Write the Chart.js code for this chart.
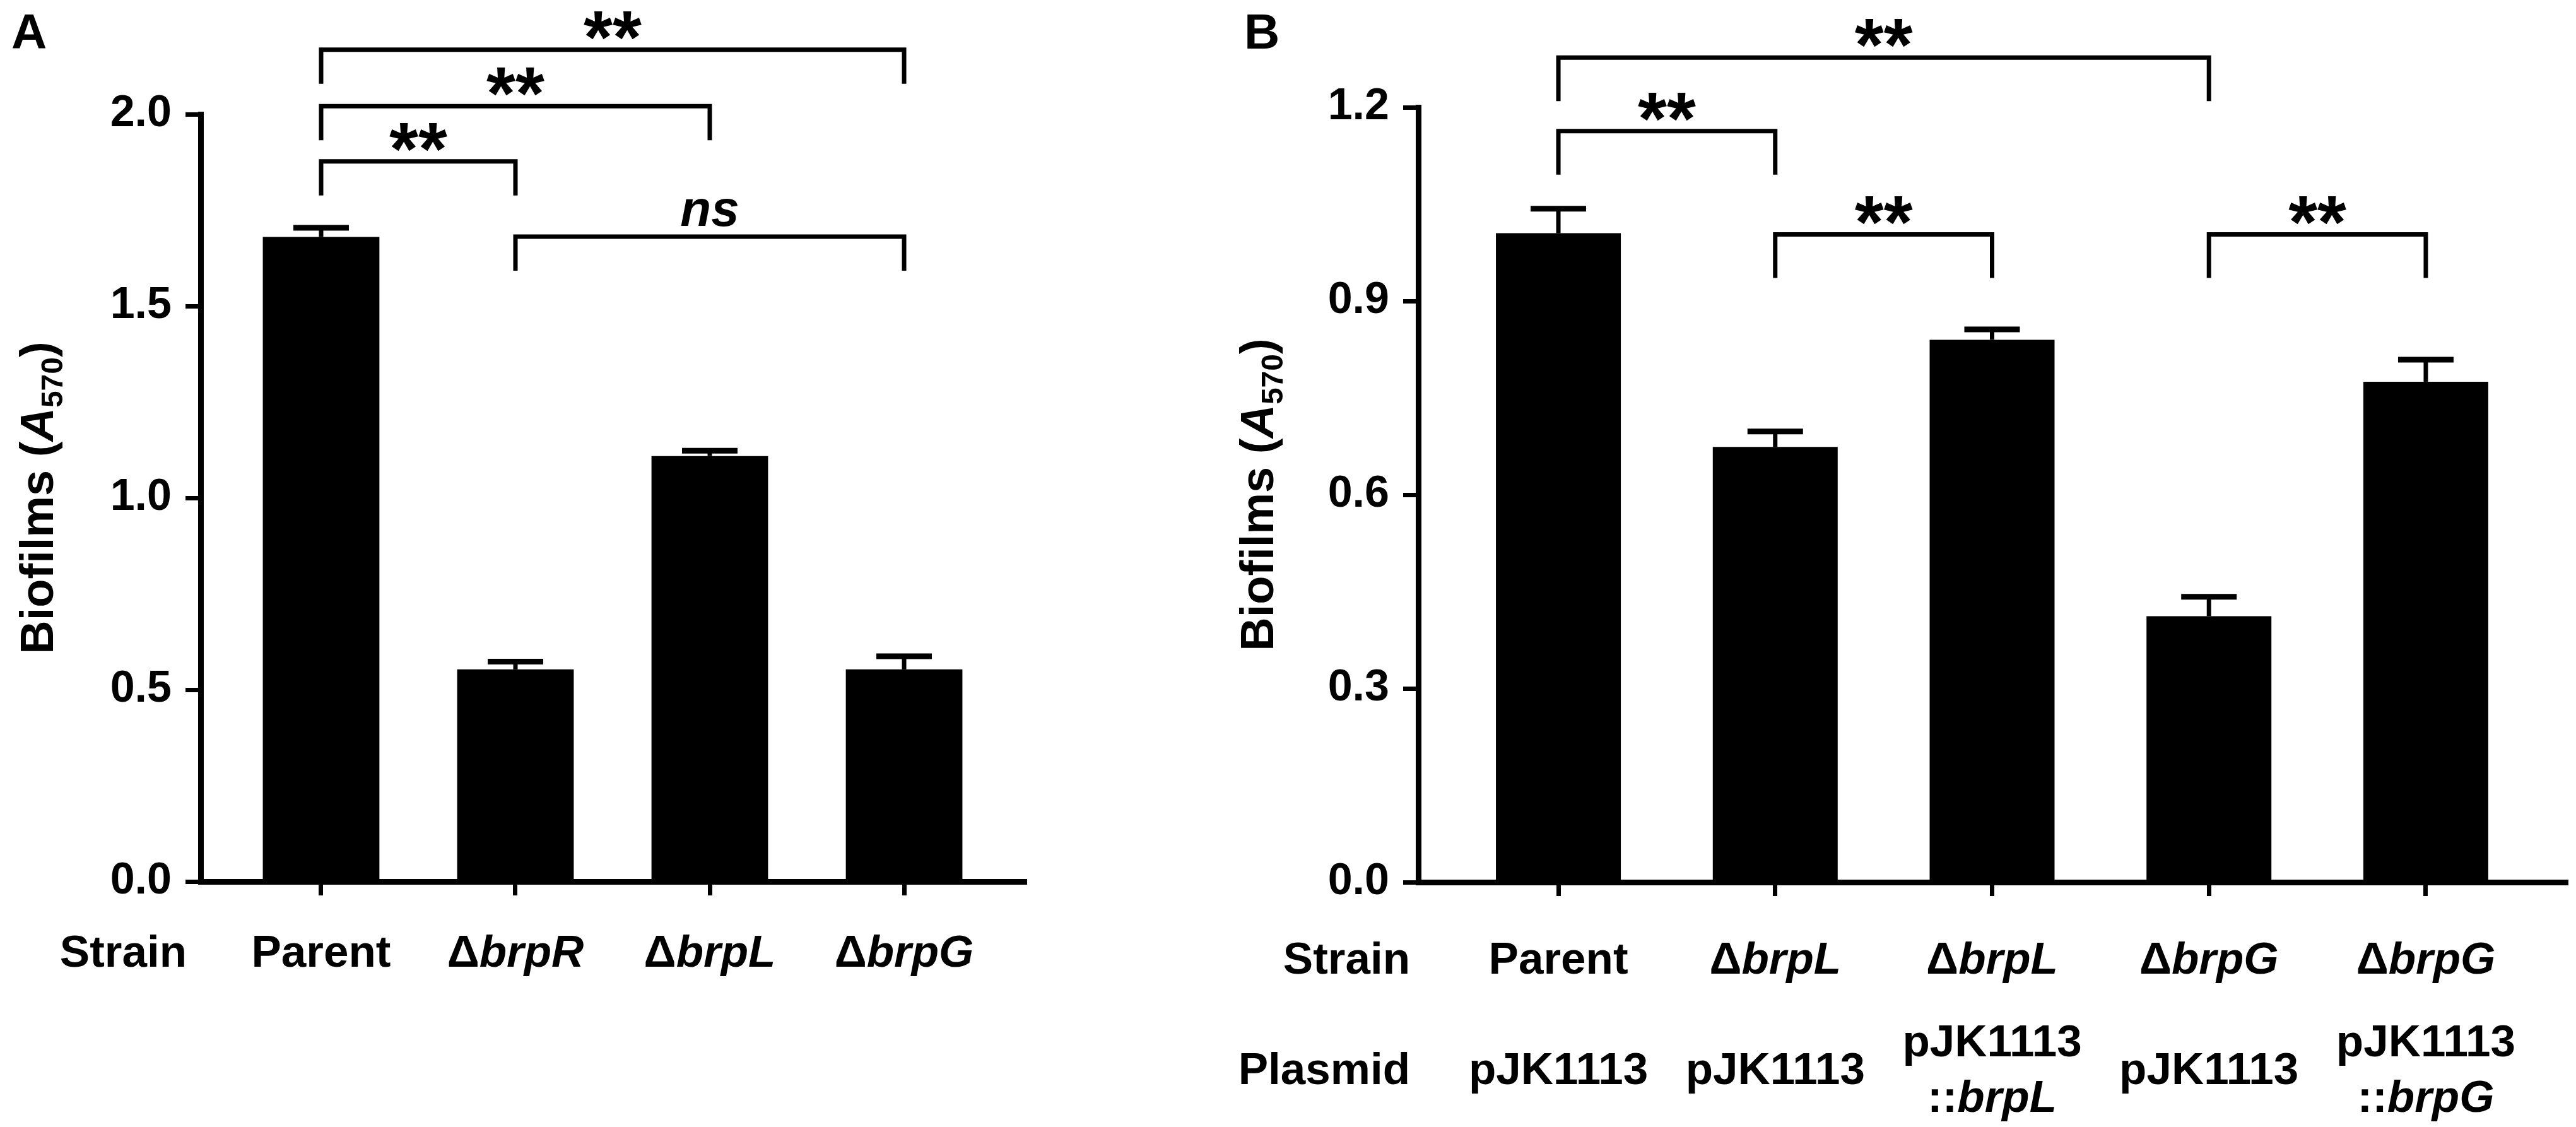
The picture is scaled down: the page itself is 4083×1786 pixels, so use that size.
<!DOCTYPE html>
<html>
<head>
<meta charset="utf-8">
<title>Biofilm formation</title>
<script src="https://cdn.jsdelivr.net/npm/chart.js@4.4.1/dist/chart.umd.min.js"></script>
<style>
	html, body { margin: 0; padding: 0; background: #fff; }
	#wrap { position: relative; width: 4083px; height: 1786px; overflow: hidden; background: #fff; }
	canvas { position: absolute; top: 0; }
	#chartA { left: 0; }
	#chartB { left: 1900px; }
</style>
</head>
<body>
<div id="wrap">
	<canvas id="chartA" width="1900" height="1786"></canvas>
	<canvas id="chartB" width="2183" height="1786"></canvas>
</div>
<script>
// ---- panel A data ----
var strainsA = ["Parent", "Δ<i>brpR</i>", "Δ<i>brpL</i>", "Δ<i>brpG</i>"];
var meanA = [1.68, 0.553, 1.109, 0.553];
var errA = [0.024, 0.02, 0.014, 0.034];
var ticksA = [0, 0.5, 1.0, 1.5, 2.0];
var statsA = [
	{ from: 0, to: 1, level: 1.877, text: "**" },
	{ from: 0, to: 2, level: 2.021, text: "**" },
	{ from: 0, to: 3, level: 2.168, text: "**" },
	{ from: 1, to: 3, level: 1.681, text: "<i>ns</i>" },
];

// ---- panel B data ----
var strainsB = ["Parent", "Δ<i>brpL</i>", "Δ<i>brpL</i>", "Δ<i>brpG</i>", "Δ<i>brpG</i>"];
var plasmidsB = ["pJK1113", "pJK1113", "pJK1113\n::<i>brpL</i>", "pJK1113", "pJK1113\n::<i>brpG</i>"];
var meanB = [1.005, 0.674, 0.84, 0.412, 0.775];
var errB = [0.038, 0.024, 0.016, 0.03, 0.034];
var ticksB = [0, 0.3, 0.6, 0.9, 1.2];
var statsB = [
	{ from: 0, to: 1, level: 1.163, text: "**" },
	{ from: 0, to: 3, level: 1.277, text: "**" },
	{ from: 1, to: 2, level: 1.003, text: "**" },
	{ from: 3, to: 4, level: 1.003, text: "**" },
];

var yTitle = "Biofilms (<i>A</i><sub>570</sub>)";

var FONT = "'Liberation Sans', Arial, Helvetica, sans-serif";
Chart.defaults.font.family = FONT;
Chart.defaults.color = "#000";

// split "text <i>x</i> <sub>y</sub>" into styled pieces
function richParts(markup) {
	var parts = [];
	var re = /<(i|sub)>(.*?)<\/\1>/g;
	var last = 0, m;
	while ((m = re.exec(markup)) !== null) {
		if (m.index > last) parts.push({ text: markup.slice(last, m.index) });
		parts.push({ text: m[2], italic: m[1] === "i", sub: m[1] === "sub" });
		last = re.lastIndex;
	}
	if (last < markup.length) parts.push({ text: markup.slice(last) });
	return parts;
}

function measureRich(ctx, markup, size) {
	var parts = richParts(markup);
	var total = 0, descent = -1e9;
	parts.forEach(function (p) {
		p.font = (p.italic ? "italic " : "") + "bold " + Math.round(p.sub ? size * 0.65 : size) + "px " + FONT;
		ctx.font = p.font;
		var mt = ctx.measureText(p.text);
		p.w = mt.width;
		total += p.w;
		descent = Math.max(descent, mt.actualBoundingBoxDescent);
	});
	return { parts: parts, width: total, descent: descent };
}

function drawRich(ctx, markup, x, y, size, align) {
	var r = measureRich(ctx, markup, size);
	var cx = x - r.width / 2;
	if (align === "right") cx = x - r.width;
	if (align === "left") cx = x;
	ctx.textAlign = "left";
	ctx.textBaseline = "alphabetic";
	r.parts.forEach(function (p) {
		ctx.font = p.font;
		ctx.fillText(p.text, cx, p.sub ? y + size * 0.2 : y);
		cx += p.w;
	});
}

// error bars, significance brackets, category rows, axis title, panel letter
var panelDeco = {
	id: "panelDeco",
	afterDraw: function (chart, args, o) {
		var ctx = chart.ctx;
		var xs = chart.scales.x;
		var ys = chart.scales.y;
		ctx.save();
		ctx.fillStyle = "#000";
		ctx.strokeStyle = "#000";
		ctx.lineCap = "butt";
		ctx.lineJoin = "miter";

		// error bars (upper only)
		chart.data.datasets[0].data.forEach(function (pt, i) {
			var x = xs.getPixelForValue(pt.x);
			var y0 = ys.getPixelForValue(pt.y);
			var y1 = ys.getPixelForValue(pt.y + o.errors[i]);
			ctx.lineWidth = 7;
			ctx.beginPath();
			ctx.moveTo(x, y0);
			ctx.lineTo(x, y1);
			ctx.stroke();
			ctx.lineWidth = 9;
			ctx.beginPath();
			ctx.moveTo(x - 44, y1);
			ctx.lineTo(x + 44, y1);
			ctx.stroke();
		});

		// brackets
		o.stats.forEach(function (s) {
			var x1 = xs.getPixelForValue(s.from);
			var x2 = xs.getPixelForValue(s.to);
			var y = ys.getPixelForValue(s.level);
			ctx.lineWidth = 7;
			ctx.beginPath();
			ctx.moveTo(x1, y + o.leg);
			ctx.lineTo(x1, y);
			ctx.lineTo(x2, y);
			ctx.lineTo(x2, y + o.leg);
			ctx.stroke();
			var size = s.text.indexOf("*") >= 0 ? 118 : 80;
			var r = measureRich(ctx, s.text, size);
			drawRich(ctx, s.text, (x1 + x2) / 2, y - 16 - r.descent, size, "center");
		});

		// category rows under the axis
		o.rows.forEach(function (row) {
			drawRich(ctx, row.name, o.headerX, row.baseline, 71, "right");
			row.labels.forEach(function (lab, i) {
				var x = xs.getPixelForValue(i);
				var lines = lab.split("\n");
				lines.forEach(function (ln, k) {
					var yy = row.baseline + (k - (lines.length - 1) / 2) * 88;
					drawRich(ctx, ln, x, yy, 71, "center");
				});
			});
		});

		// rotated y title
		ctx.save();
		ctx.translate(o.titleX, (ys.top + ys.bottom) / 2);
		ctx.rotate(-Math.PI / 2);
		drawRich(ctx, yTitle, 0, 0, 74, "center");
		ctx.restore();

		// panel letter
		drawRich(ctx, o.letter, o.letterX, 77, 78, "left");
		ctx.restore();
	},
};

function barOptions(p) {
	return {
		responsive: false,
		devicePixelRatio: 1,
		animation: false,
		layout: { padding: { top: p.top, right: p.right, bottom: 0, left: 0 } },
		plugins: {
			legend: { display: false },
			tooltip: { enabled: false },
			panelDeco: p.deco,
		},
		scales: {
			x: {
				type: "linear",
				offset: false,
				min: p.xmin,
				max: p.xmax,
				afterBuildTicks: function (s) {
					s.ticks = p.cats.map(function (c, i) { return { value: i }; });
				},
				afterFit: function (s) { s.height = p.xHeight; },
				ticks: { display: false },
				grid: { offset: false, drawOnChartArea: false, drawTicks: true, tickLength: 22, lineWidth: 7, color: "#000" },
				border: { display: true, color: "#000", width: 9 },
			},
			y: {
				min: 0,
				max: p.ticks[p.ticks.length - 1],
				afterBuildTicks: function (s) {
					s.ticks = p.ticks.map(function (v) { return { value: v }; });
				},
				afterFit: function (s) { s.width = p.yWidth; },
				ticks: {
					font: { size: 70, weight: "bold" },
					color: "#000",
					padding: 22,
					callback: function (v) { return Number(v).toFixed(1); },
				},
				grid: { drawOnChartArea: false, drawTicks: true, tickLength: 24, lineWidth: 7, color: "#000" },
				border: { display: true, color: "#000", width: 9 },
			},
		},
	};
}

var chartA = new Chart(document.getElementById("chartA"), {
	type: "bar",
	data: {
		datasets: [
			{
				label: "Biofilms",
				data: meanA.map(function (v, i) { return { x: i, y: v }; }),
				backgroundColor: "#000",
				borderWidth: 0,
				categoryPercentage: 1,
				barPercentage: 0.6,
			},
		],
	},
	options: barOptions({
		cats: strainsA,
		ticks: ticksA,
		xmin: -0.62,
		xmax: 3.62,
		top: 181,
		right: 1900 - 1624,
		xHeight: 1786 - 1397,
		yWidth: 318,
		deco: {
			errors: errA,
			stats: statsA,
			leg: 54,
			rows: [{ name: "Strain", labels: strainsA, baseline: 1532 }],
			headerX: 296,
			titleX: 84,
			letter: "A",
			letterX: 18,
		},
	}),
	plugins: [panelDeco],
});

var chartB = new Chart(document.getElementById("chartB"), {
	type: "bar",
	data: {
		datasets: [
			{
				label: "Biofilms",
				data: meanB.map(function (v, i) { return { x: i, y: v }; }),
				backgroundColor: "#000",
				borderWidth: 0,
				categoryPercentage: 1,
				barPercentage: 0.576,
			},
		],
	},
	options: barOptions({
		cats: strainsB,
		ticks: ticksB,
		xmin: -0.646,
		xmax: 4.646,
		top: 170,
		right: 2183 - 2167,
		xHeight: 1786 - 1398,
		yWidth: 348,
		deco: {
			errors: errB,
			stats: statsB,
			leg: 69,
			rows: [
				{ name: "Strain", labels: strainsB, baseline: 1543 },
				{ name: "Plasmid", labels: plasmidsB, baseline: 1718 },
			],
			headerX: 335,
			titleX: 118,
			letter: "B",
			letterX: 72,
		},
	}),
	plugins: [panelDeco],
});
</script>
</body>
</html>
